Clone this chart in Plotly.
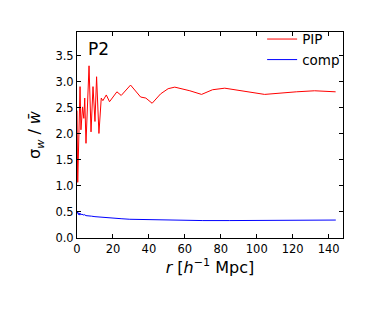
import plotly.graph_objects as go

# PIP series (r in h^-1 Mpc, sigma_w / w-bar)
pip_r = [0.0, 0.4, 1.7, 2.2, 3.1, 3.8, 4.3, 5.0, 6.7, 7.8, 8.9, 10.0, 10.9, 12.2, 13.5,
         14.4, 16.3, 18.1, 22.2, 24.6, 29.8, 35.4, 38.3, 41.8, 46.5, 50.7, 54.4, 62.8,
         69.3, 75.4, 82.2, 90.6, 104.4, 122.0, 132.2, 143.9]
pip_v = [2.45, 1.07, 2.91, 2.08, 2.52, 2.30, 2.69, 1.82, 3.31, 2.04, 2.91, 2.24, 3.10, 2.01,
         2.69, 2.64, 2.75, 2.62, 2.81, 2.74, 2.94, 2.71, 2.69, 2.59, 2.77, 2.87, 2.90, 2.83,
         2.76, 2.85, 2.88, 2.83, 2.76, 2.81, 2.83, 2.81]

# comp series
comp_r = [0.0, 0.4, 0.8, 1.2, 1.6, 2.0, 2.4, 2.8, 3.4, 4.0, 5.0, 6.5, 8.0, 10.0, 12.8,
          16.0, 20.0, 25.0, 29.4, 35.0, 40.5, 50.0, 57.0, 70.0, 85.0, 100.0, 120.0, 132.0, 144.0]
comp_v = [0.47, 0.50, 0.45, 0.48, 0.44, 0.47, 0.45, 0.46, 0.44, 0.45, 0.43, 0.43, 0.42, 0.41, 0.40,
          0.39, 0.38, 0.37, 0.36, 0.355, 0.35, 0.34, 0.335, 0.335, 0.335, 0.34, 0.34, 0.345, 0.345]

x_ticks = [0, 20, 40, 60, 80, 100, 120, 140]
y_ticks = [0.0, 0.5, 1.0, 1.5, 2.0, 2.5, 3.0, 3.5]

font = "DejaVu Sans"

fig = go.Figure()
fig.add_trace(go.Scatter(x=pip_r, y=pip_v, mode="lines", name="PIP",
                         line=dict(color="#ff0000", width=1)))
fig.add_trace(go.Scatter(x=comp_r, y=comp_v, mode="lines", name="comp",
                         line=dict(color="#0000ff", width=1)))

axis_common = dict(showline=True, linecolor="black", linewidth=1, mirror="ticks",
                   ticks="inside", ticklen=4, tickcolor="black", showgrid=False,
                   zeroline=False, tickfont=dict(family=font, size=11.5, color="black"))

fig.update_xaxes(range=[0, 148], tickvals=x_ticks, **axis_common,
                 title=dict(text="<i>r</i> [<i>h</i><sup>−1</sup> Mpc]",
                            font=dict(family=font, size=16, color="black"), standoff=4))
fig.update_yaxes(range=[0, 3.96], tickvals=y_ticks, tickformat=".1f", **axis_common,
                 title=dict(text="σ<sub><i>w</i></sub> / <i>w̄</i>",
                            font=dict(family=font, size=16, color="black"), standoff=10))

fig.add_annotation(text="P2", x=0.035, y=0.975, xref="paper", yref="paper",
                   xanchor="left", yanchor="top", showarrow=False,
                   font=dict(family=font, size=17, color="black"))

fig.update_layout(
    width=374, height=310,
    margin=dict(l=69, r=39, t=24, b=80),
    plot_bgcolor="white", paper_bgcolor="white",
    legend=dict(x=1.008, y=1.04, xanchor="right", yanchor="top",
                bgcolor="rgba(0,0,0,0)", font=dict(family=font, size=13.5, color="black"),
                itemwidth=30, tracegroupgap=0),
    showlegend=True,
)

fig.write_html("out.html")
